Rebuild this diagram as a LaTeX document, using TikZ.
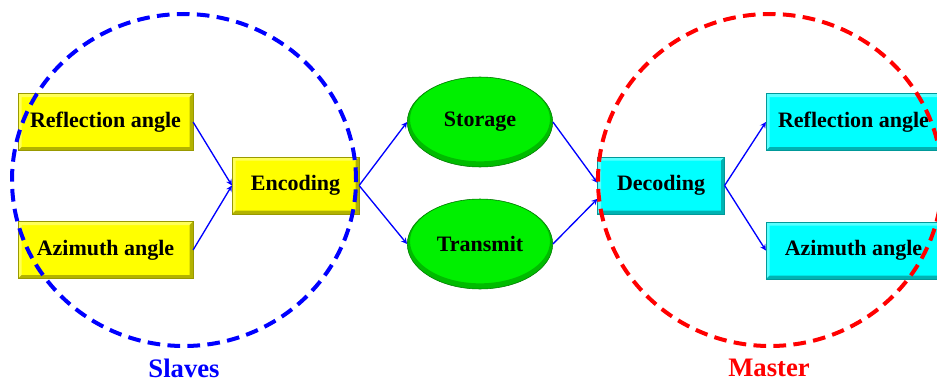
\documentclass[tikz,border=0pt]{standalone}
\usepackage{fontspec}
\setmainfont{Liberation Serif}
\usetikzlibrary{shapes.geometric}
\definecolor{boxyellow}{RGB}{255,255,0}
\definecolor{boxaqua}{RGB}{0,255,255}
\definecolor{boxlime}{RGB}{0,240,0}
\definecolor{lineblue}{RGB}{0,0,255}
\definecolor{linered}{RGB}{255,0,0}

\begin{document}
\begin{tikzpicture}[x=.75pt,y=-.75pt,>=stealth,line width=1pt,
  font=\fontsize{16.5}{19}\selectfont\bfseries,
  bevel/.style={path picture={
    \fill[white,opacity=.35] (path picture bounding box.south west)
      -- (path picture bounding box.north west) -- (path picture bounding box.north east)
      -- ([shift={(-2.5pt,-2.5pt)}]path picture bounding box.north east)
      -- ([shift={(2.5pt,-2.5pt)}]path picture bounding box.north west)
      -- ([shift={(2.5pt,2.5pt)}]path picture bounding box.south west) -- cycle;
    \fill[black,opacity=.3] (path picture bounding box.south west)
      -- (path picture bounding box.south east) -- (path picture bounding box.north east)
      -- ([shift={(-2.5pt,-2.5pt)}]path picture bounding box.north east)
      -- ([shift={(-2.5pt,2.5pt)}]path picture bounding box.south east)
      -- ([shift={(2.5pt,2.5pt)}]path picture bounding box.south west) -- cycle;}},
  anglebox/.style={rectangle,inner sep=0pt,line width=.4pt,
    minimum width=131pt,minimum height=42.5pt,bevel},
  codebox/.style={anglebox,minimum width=95pt},
  slave/.style={fill=boxyellow,draw=boxyellow!60!black},
  master/.style={fill=boxaqua,draw=boxaqua!60!black},
  medium/.style={ellipse,inner sep=0pt,fill=boxlime,draw=boxlime!50!black,line width=.4pt,
    minimum width=109pt,minimum height=67.5pt,
    path picture={\fill[black,opacity=.22,even odd rule]
      (path picture bounding box.south west) rectangle (path picture bounding box.north east)
      ([yshift=2pt]path picture bounding box.center) ellipse (52.5pt and 31.5pt);}},
  flow/.style={->,lineblue},
  group/.style={line width=3pt,dash pattern=on 9.5pt off 5.5pt},
  tag/.style={font=\fontsize{20}{24}\selectfont\bfseries}]
  \useasboundingbox (0,0) rectangle (937,385);
  % slaves side
  \node[anglebox,slave] (refl) at (105.5,122) {Reflection angle};
  \node[anglebox,slave] (azim) at (105.5,250) {Azimuth angle};
  \node[codebox,slave] (enc) at (295.5,185.5) {Encoding};
  % storage / channel
  \node[medium] (store) at (480,122) {Storage};
  \node[medium] (trans) at (480,244) {Transmit};
  % master side
  \node[codebox,master] (dec) at (661,185.5) {Decoding};
  \node[anglebox,master] (reflm) at (853.5,122) {Reflection angle};
  \node[anglebox,master] (azimm) at (853.5,250.5) {Azimuth angle};
  \draw[flow] (refl.east) -- (enc.west);
  \draw[flow] (azim.east) -- (enc.west);
  \draw[flow] (enc.east) -- (store.west);
  \draw[flow] (enc.east) -- (trans.west);
  \draw[flow] (store.east) -- ([yshift=2pt]dec.west);
  \draw[flow] (trans.east) -- ([yshift=-10pt]dec.west);
  \draw[flow] (dec.east) -- (reflm.west);
  \draw[flow] (dec.east) -- (azimm.west);
  % groups
  \draw[group,lineblue] (184,180) ellipse [x radius=129pt,y radius=124.5pt];
  \draw[group,linered] (770,180) ellipse [x radius=129pt,y radius=124.5pt];
  \node[tag,text=lineblue] (slaves) at (184,368) {Slaves};
  \node[tag,text=linered] (mst) at (769,368) {Master};
\end{tikzpicture}
\end{document}
